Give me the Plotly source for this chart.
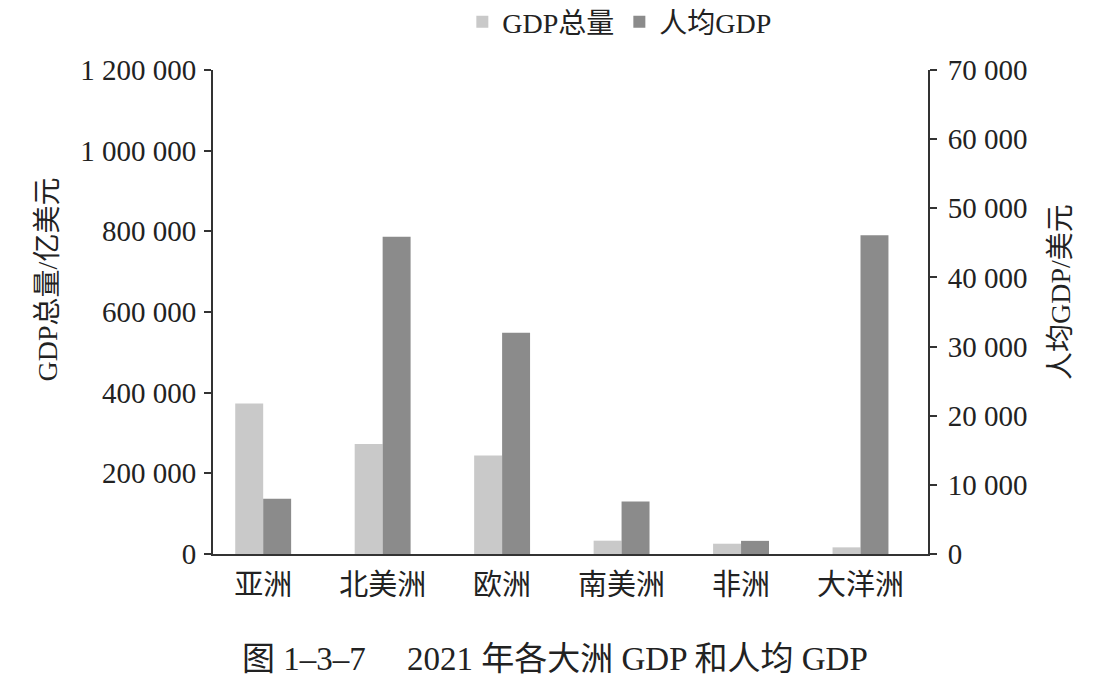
import plotly.graph_objects as go

continents = ["亚洲", "北美洲", "欧洲", "南美洲", "非洲", "大洋洲"]
gdp_total = [373000, 273000, 244000, 33000, 25500, 16500]   # 亿美元
gdp_per_capita = [8000, 45900, 32000, 7600, 1900, 46100]    # 美元

left_ticks = [0, 200000, 400000, 600000, 800000, 1000000, 1200000]
right_ticks = [0, 10000, 20000, 30000, 40000, 50000, 60000, 70000]

FONT = "Liberation Serif, Noto Sans CJK SC, serif"
INK = "#222222"

fig = go.Figure()
fig.add_trace(go.Bar(x=continents, y=gdp_total, name="GDP总量",
                     marker=dict(color="#c9c9c9", line=dict(width=0)),
                     width=0.234, offset=-0.234, yaxis="y"))
fig.add_trace(go.Bar(x=continents, y=gdp_per_capita, name="人均GDP",
                     marker=dict(color="#8b8b8b", line=dict(width=0)),
                     width=0.234, offset=0, yaxis="y2"))

# page body adds 8px, so the figure is 8px smaller each way
fig.update_layout(
    width=1106, height=679,
    margin=dict(l=205, r=186, t=62, b=133, autoexpand=False),
    paper_bgcolor="white", plot_bgcolor="white",
    separators=". ",
    font=dict(family=FONT, size=29, color=INK),
    showlegend=True,
    legend=dict(orientation="h", x=0.569, xanchor="center", y=1.099, yanchor="middle",
                font=dict(size=28), traceorder="normal"),
    xaxis=dict(range=[-0.42, 5.565], showline=True, linecolor="#333", linewidth=2,
               ticks="", showgrid=False, tickfont=dict(size=29), ticklabelstandoff=4),
    yaxis=dict(range=[0, 1200000], tickvals=left_ticks, tickformat=",d",
               showline=True, linecolor="#333", linewidth=2, ticks="outside",
               ticklen=7, tickwidth=2, tickcolor="#333", showgrid=False, zeroline=False,
               tickfont=dict(size=29), ticklabelstandoff=2),
    yaxis2=dict(range=[0, 70000], tickvals=right_ticks, tickformat=",d", overlaying="y",
                side="right", showline=True, linecolor="#333", linewidth=2, ticks="outside",
                ticklen=7, tickwidth=2, tickcolor="#333", showgrid=False, zeroline=False,
                tickfont=dict(size=29), ticklabelstandoff=5),
    annotations=[
        dict(text="GDP总量/亿美元", textangle=-90, xref="paper", yref="paper",
             x=-0.231, y=0.567, xanchor="center", yanchor="middle",
             showarrow=False, font=dict(size=28)),
        dict(text="人均GDP/美元", textangle=-90, xref="paper", yref="paper",
             x=1.185, y=0.542, xanchor="center", yanchor="middle",
             showarrow=False, font=dict(size=28)),
        dict(text="图 1–3–7　 2021 年各大洲 GDP 和人均 GDP", xref="paper", yref="paper",
             x=0.478, y=-0.217, xanchor="center", yanchor="middle",
             showarrow=False, font=dict(size=33)),
    ],
)

fig.write_html("out.html")
